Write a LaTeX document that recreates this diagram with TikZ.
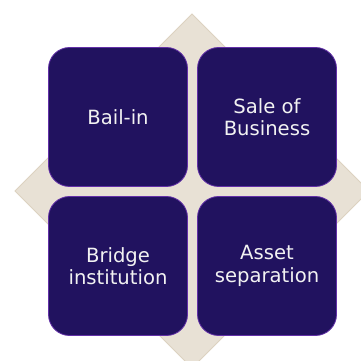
\documentclass[tikz,border=0pt]{standalone}
\usepackage{fontspec}
\setmainfont{DejaVu Sans}
\definecolor{boxfill}{HTML}{21125F}
\definecolor{boxline}{HTML}{6330A8}
\definecolor{diafill}{HTML}{E8E1D5}
\definecolor{dialine}{HTML}{DCD2C0}
\definecolor{txt}{HTML}{F2F2F2}
\tikzset{
  tile/.style={draw=boxline, line width=0.8pt, fill=boxfill, rounded corners=21pt,
    minimum width=139pt, minimum height=139pt, inner sep=0pt, align=center,
    text=txt, font=\fontsize{19.6}{22.5}\selectfont},
}
\begin{document}
\begin{tikzpicture}[x=1pt,y=1pt]
\useasboundingbox (0,0) rectangle (361,361);
\fill[white] (0,0) rectangle (361,361);
\begin{scope}
\clip (0,0) rectangle (361,361);
\filldraw[fill=diafill, draw=dialine, line width=0.8pt] (192,347) -- (369,170) -- (192,-7) -- (15,170) -- cycle;
\end{scope}
\node[tile] (bail) at (118,244) {Bail-in};
\node[tile] (sale) at (267,244) {Sale of\\Business};
\node[tile] (bridge) at (118,95) {Bridge\\institution};
\node[tile] (asset) at (267,95) {Asset\\separation};
\end{tikzpicture}
\end{document}
